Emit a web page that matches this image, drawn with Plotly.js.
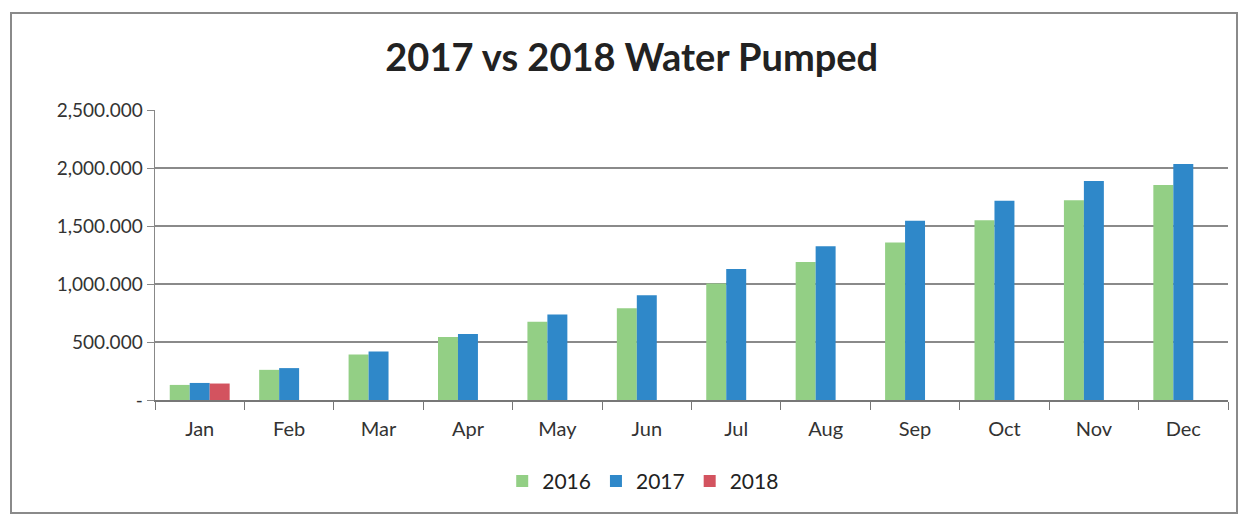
<!DOCTYPE html>
<html>
<head>
<meta charset="utf-8">
<script src="https://cdn.plot.ly/plotly-3.0.1.min.js"></script>
<style>
  html, body { margin: 0; padding: 0; background: #ffffff; }
  #frame { position: absolute; left: 10px; top: 12px; width: 1228px; height: 502px; border: 2px solid #8a8a8a; box-sizing: border-box; }
  #chart { position: absolute; left: 0; top: 0; width: 1251px; height: 521px; }
</style>
</head>
<body>
<div id="frame"></div>
<div id="chart"></div>
<script>
const months = ["Jan","Feb","Mar","Apr","May","Jun","Jul","Aug","Sep","Oct","Nov","Dec"];
const series2016 = [130, 260, 393, 544, 675, 791, 1005, 1190, 1357, 1550, 1722, 1853];
const series2017 = [147, 275, 419, 570, 737, 904, 1130, 1325, 1545, 1717, 1888, 2035];
const series2018 = [142, null, null, null, null, null, null, null, null, null, null, null];
const yTickVals = [0, 500, 1000, 1500, 2000, 2500];
const yTickText = ["-", "500.000", "1,000.000", "1,500.000", "2,000.000", "2,500.000"];

const font = "Lato, 'Open Sans', sans-serif";
const traces = [
  { type: "bar", name: "2016", x: months, y: series2016, marker: { color: "#93cf85" } },
  { type: "bar", name: "2017", x: months, y: series2017, marker: { color: "#2f88c9" } },
  { type: "bar", name: "2018", x: months, y: series2018, marker: { color: "#d3535f" } }
];
const layout = {
  width: 1251, height: 521,
  paper_bgcolor: "rgba(0,0,0,0)", plot_bgcolor: "rgba(0,0,0,0)",
  font: { family: font, color: "#333333", size: 19 },
  title: { text: "<b>2017 vs 2018 Water Pumped</b>", x: 0.505, xanchor: "center", y: 0.89, yanchor: "middle",
           font: { family: font, size: 38, color: "#222222" } },
  margin: { l: 155, r: 23, t: 110, b: 121 },
  barmode: "group", bargap: 0.33, bargroupgap: 0,
  xaxis: { type: "category", showgrid: false, showline: true, linecolor: "#777777", linewidth: 1.5,
           ticks: "outside", tickson: "boundaries", ticklen: 8, tickcolor: "#777777",
           ticklabelstandoff: 10,
           tickfont: { size: 20, color: "#333333" } },
  yaxis: { range: [0, 2500], tickvals: yTickVals, ticktext: yTickText, showgrid: true, gridcolor: "#8a8a8a", gridwidth: 1.5,
           showline: true, linecolor: "#888888", linewidth: 1.5, ticks: "outside", ticklen: 7, tickcolor: "#888888",
           zeroline: false, tickfont: { size: 19, color: "#333333" } },
  showlegend: true,
  legend: { orientation: "h", x: 0.455, xanchor: "center", y: -0.21, yanchor: "top", font: { size: 21, color: "#222222" },
            itemwidth: 30, tracegroupgap: 0 }
};
Plotly.newPlot("chart", traces, layout, { displayModeBar: false, staticPlot: true });
</script>
</body>
</html>
